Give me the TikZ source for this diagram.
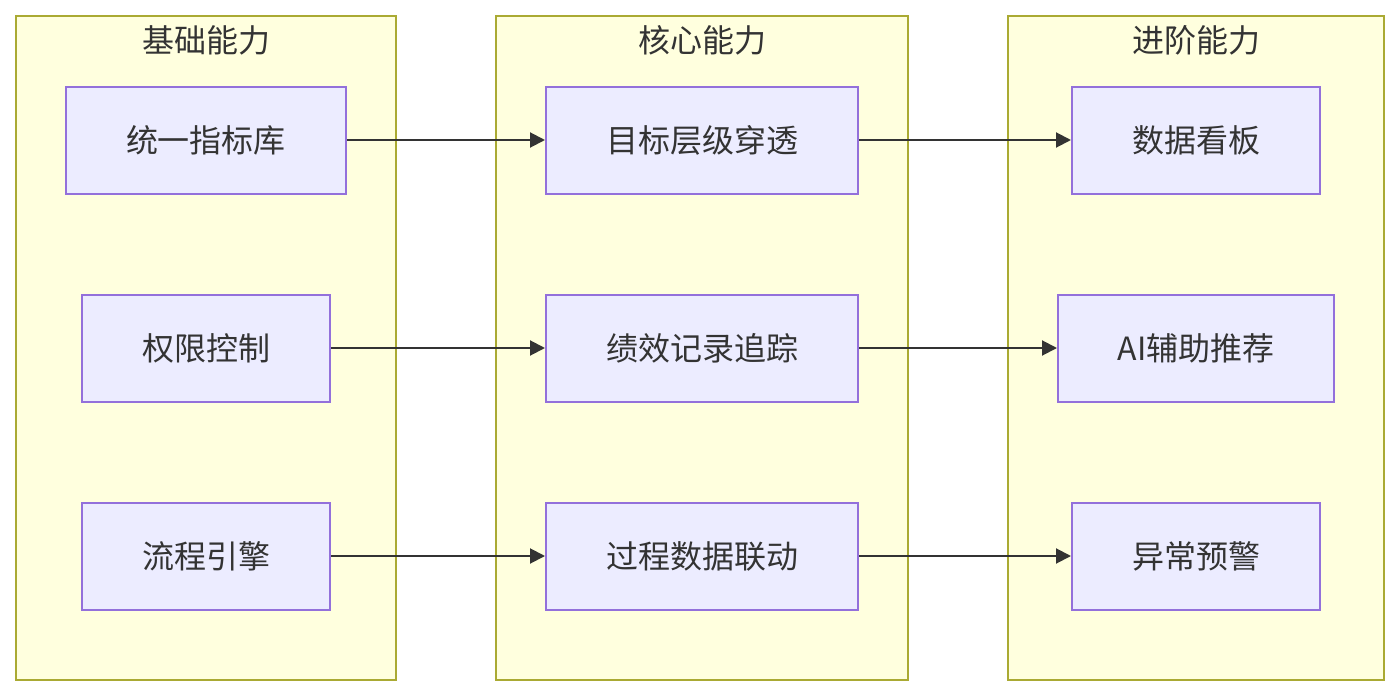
\documentclass[tikz,border=0pt]{standalone}
\usepackage{fontspec}
\setmainfont{Noto Sans CJK SC}
\usetikzlibrary{arrows.meta}
\definecolor{grpfill}{HTML}{FFFFDE}
\definecolor{grpline}{HTML}{AAAA33}
\definecolor{boxfill}{HTML}{ECECFF}
\definecolor{boxline}{HTML}{9370DB}
\definecolor{ink}{HTML}{333333}
\tikzset{
  grp/.style={draw=grpline, fill=grpfill, line width=1pt},
  grptitle/.style={text=ink, font=\fontsize{16pt}{19pt}\selectfont},
  box/.style={draw=boxline, fill=boxfill, line width=1pt, text=ink,
    font=\fontsize{16pt}{19pt}\selectfont, minimum height=53.5pt, inner sep=0pt},
  link/.style={draw=ink, line width=1pt, -{Triangle[length=7.5pt,width=7.5pt]}}
}
\begin{document}
\begin{tikzpicture}[x=0.5pt, y=-0.5pt]
	\useasboundingbox (0,0) rectangle (1399,696);
	% groups
	\draw[grp] (16,16) rectangle (396,680);
	\draw[grp] (496,16) rectangle (908,680);
	\draw[grp] (1008,16) rectangle (1384,680);
	\node[grptitle] (base) at (206,40) {基础能力};
	\node[grptitle] (core) at (702,40) {核心能力};
	\node[grptitle] (adv) at (1196,40) {进阶能力};
	% left column
	\node[box, minimum width=140pt] (kpi) at (206,140) {统一指标库};
	\node[box, minimum width=124pt] (perm) at (206,348) {权限控制};
	\node[box, minimum width=124pt] (flow) at (206,556) {流程引擎};
	% middle column
	\node[box, minimum width=156pt] (goal) at (702,140) {目标层级穿透};
	\node[box, minimum width=156pt] (track) at (702,348) {绩效记录追踪};
	\node[box, minimum width=156pt] (sync) at (702,556) {过程数据联动};
	% right column
	\node[box, minimum width=124pt] (board) at (1196,140) {数据看板};
	\node[box, minimum width=138pt] (ai) at (1196,348) {AI辅助推荐};
	\node[box, minimum width=124pt] (alarm) at (1196,556) {异常预警};
	% links
	\draw[link] (kpi) -- (goal);
	\draw[link] (perm) -- (track);
	\draw[link] (flow) -- (sync);
	\draw[link] (goal) -- (board);
	\draw[link] (track) -- (ai);
	\draw[link] (sync) -- (alarm);
\end{tikzpicture}
\end{document}
